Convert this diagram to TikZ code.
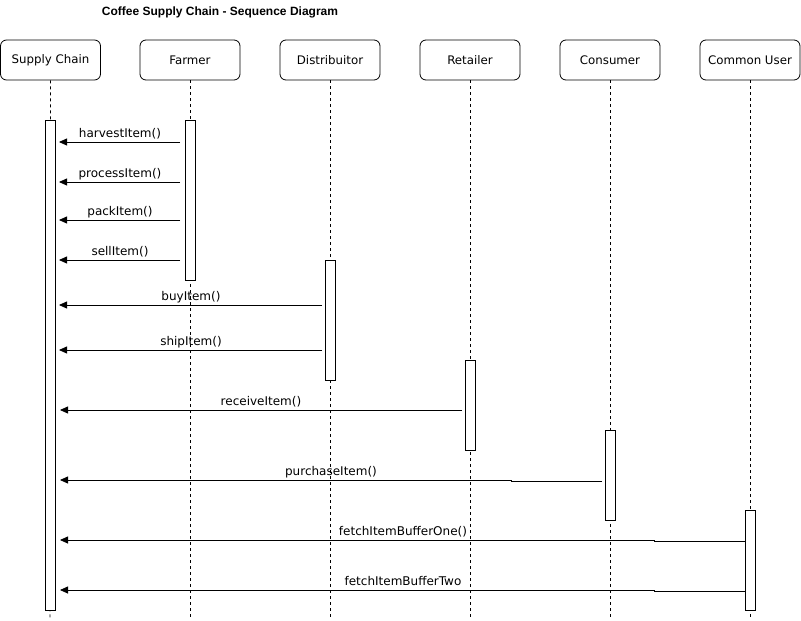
\documentclass[tikz,border=0pt]{standalone}
\usepackage{fontspec}
\setmainfont{DejaVu Sans}
\newfontfamily\titlefont{Liberation Sans}
\usetikzlibrary{arrows.meta}
\begin{document}
\begin{tikzpicture}[x=1pt,y=-1pt,
  hdr/.style={draw,rounded corners=6pt,minimum width=100pt,minimum height=40pt,inner sep=0pt,font=\fontsize{11.8}{13}\selectfont,line width=0.8pt},
  act/.style={draw,fill=white,minimum width=10pt,inner sep=0pt,line width=0.8pt},
  life/.style={dash pattern=on 3pt off 3pt,line width=0.7pt},
  msg/.style={line width=0.8pt,-{Triangle[length=8pt,width=7pt]}},
  lbl/.style={font=\fontsize{12}{14}\selectfont,inner sep=0pt,anchor=base}]
\useasboundingbox (0,0) rectangle (801,621);
% title
\node[font=\titlefont\bfseries\fontsize{12}{14}\selectfont] (title) at (220,12) {Coffee Supply Chain - Sequence Diagram};
% headers
\node[hdr] (sc) at (50.5,60) {Supply Chain};
\node[hdr] (fa) at (190,60) {Farmer};
\node[hdr] (di) at (330,60) {Distribuitor};
\node[hdr] (re) at (470,60) {Retailer};
\node[hdr] (co) at (610,60) {Consumer};
\node[hdr] (cu) at (750,60) {Common User};
% lifeline ends
\coordinate (scE) at (50,618);
\coordinate (faE) at (190,618);
\coordinate (diE) at (330,618);
\coordinate (reE) at (470,618);
\coordinate (coE) at (610,618);
\coordinate (cuE) at (750,618);
\foreach \n in {sc,fa,di,re,co,cu} \draw[life] (\n.south) -- (\n E);
% activations
\node[act,minimum height=490pt] (scA) at (50,365) {};
\node[act,minimum height=160pt] (faA) at (190,200) {};
\node[act,minimum height=120pt] (diA) at (330,320) {};
\node[act,minimum height=90pt] (reA) at (470,405) {};
\node[act,minimum height=90pt] (coA) at (610,475) {};
\node[act,minimum height=100pt] (cuA) at (750,560) {};
% message endpoints
\coordinate (s1) at (180,142); \coordinate (e1) at (59,142);
\coordinate (s2) at (180,182); \coordinate (e2) at (59,182);
\coordinate (s3) at (180,220); \coordinate (e3) at (59,220);
\coordinate (s4) at (180,260); \coordinate (e4) at (59,260);
\coordinate (s5) at (322,305); \coordinate (e5) at (59,305);
\coordinate (s6) at (322,350); \coordinate (e6) at (59,350);
\coordinate (s7) at (462,410); \coordinate (e7) at (60,410);
\coordinate (s8) at (602,481); \coordinate (j8) at (511,480); \coordinate (e8) at (60,480);
\coordinate (s9) at (745,541); \coordinate (j9) at (654,540); \coordinate (e9) at (60,540);
\coordinate (s10) at (745,591); \coordinate (j10) at (654,590); \coordinate (e10) at (60,590);
\draw[msg] (s1) -- (e1);
\draw[msg] (s2) -- (e2);
\draw[msg] (s3) -- (e3);
\draw[msg] (s4) -- (e4);
\draw[msg] (s5) -- (e5);
\draw[msg] (s6) -- (e6);
\draw[msg] (s7) -- (e7);
\draw[msg] (s8) -| (j8) -- (e8);
\draw[msg] (s9) -| (j9) -- (e9);
\draw[msg] (s10) -| (j10) -- (e10);
% labels
\node[lbl] (l1) at (120,137.5) {harvestItem()};
\node[lbl] (l2) at (120,177) {processItem()};
\node[lbl] (l3) at (120,215) {packItem()};
\node[lbl] (l4) at (120,255) {sellItem()};
\node[lbl] (l5) at (191,300) {buyItem()};
\node[lbl] (l6) at (191,345) {shipItem()};
\node[lbl] (l7) at (261,405) {receiveItem()};
\node[lbl] (l8) at (331,475) {purchaseItem()};
\node[lbl] (l9) at (403,535) {fetchItemBufferOne()};
\node[lbl] (l10) at (403,585) {fetchItemBufferTwo};
\end{tikzpicture}
\end{document}
